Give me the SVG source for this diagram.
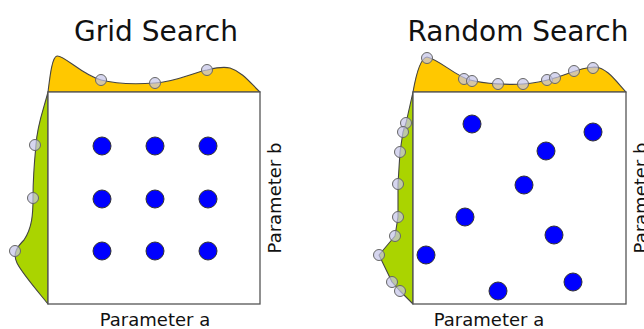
<svg xmlns="http://www.w3.org/2000/svg" width="644" height="329" viewBox="0 0 644 329">
  <style>
    .title { font-family: "DejaVu Sans", Verdana, sans-serif; font-size: 28px; fill: #111; text-anchor: middle; }
    .axis { font-family: "DejaVu Sans", Verdana, sans-serif; font-size: 18px; fill: #111; text-anchor: middle; }
    .frame { fill: #ffffff; stroke: #555; stroke-width: 1.3; }
    .top { fill: #ffc800; stroke: #444; stroke-width: 1.1; stroke-linejoin: round; }
    .side { fill: #aad400; stroke: #444; stroke-width: 1.1; stroke-linejoin: round; }
    .trial { fill: #0000ff; stroke: #333; stroke-width: 1; }
    .sample { fill: rgb(196,196,232); fill-opacity: 0.7; stroke: #666; stroke-width: 1; }
  </style>

  <!-- Grid search panel -->
  <g id="grid-search">
    <text class="title" x="156" y="41">Grid Search</text>
    <path class="top" d="M48,92 C50,76 52,57 57,56 C64,55 82,75 101,80 C120,85 140,84 155,83 C175,82 195,72 207,70 C215,68 222,66 230,68 C243,72 252,85 260,92 Z"/>
    <path class="side" d="M48,92 C44,108 37,125 36,145 C34,165 33,185 33,198 C33,215 32,228 24,240 C18,246 12,253 17,263 C22,273 35,288 48,304 Z"/>
    <rect class="frame" x="48" y="92" width="212" height="212"/>
    <g id="grid-samples-a">
      <circle class="sample" cx="101" cy="80" r="5.5"/>
      <circle class="sample" cx="155" cy="83" r="5.5"/>
      <circle class="sample" cx="207" cy="70" r="5.5"/>
    </g>
    <g id="grid-samples-b">
      <circle class="sample" cx="35" cy="145" r="5.5"/>
      <circle class="sample" cx="33" cy="198" r="5.5"/>
      <circle class="sample" cx="15" cy="251" r="5.5"/>
    </g>
    <g id="grid-trials">
      <circle class="trial" cx="102" cy="146" r="9"/>
      <circle class="trial" cx="155" cy="146" r="9"/>
      <circle class="trial" cx="208" cy="146" r="9"/>
      <circle class="trial" cx="102" cy="199" r="9"/>
      <circle class="trial" cx="155" cy="199" r="9"/>
      <circle class="trial" cx="208" cy="199" r="9"/>
      <circle class="trial" cx="102" cy="251" r="9"/>
      <circle class="trial" cx="155" cy="251" r="9"/>
      <circle class="trial" cx="208" cy="251" r="9"/>
    </g>
    <text class="axis" x="155" y="326">Parameter a</text>
    <text class="axis" transform="translate(281,198) rotate(-90)">Parameter b</text>
  </g>

  <!-- Random search panel -->
  <g id="random-search">
    <text class="title" x="518" y="41">Random Search</text>
    <path class="top" d="M413,92 C416,75 420,58 427,57 C440,60 455,76 470,80 C485,84 510,85 523,84 C540,83 548,80 558,77 C570,73 582,67 595,67 C607,68 615,80 626,92 Z"/>
    <path class="side" d="M413,92 L406,123 L403,132 L400,152 L398,184 L398,217 L395,236 L379,255 L392,282 L400,291 L413,304 Z"/>
    <rect class="frame" x="413" y="92" width="213" height="212"/>
    <g id="random-samples-a">
      <circle class="sample" cx="427" cy="58" r="5.5"/>
      <circle class="sample" cx="464" cy="79" r="5.5"/>
      <circle class="sample" cx="472" cy="81" r="5.5"/>
      <circle class="sample" cx="498" cy="84" r="5.5"/>
      <circle class="sample" cx="523" cy="84" r="5.5"/>
      <circle class="sample" cx="547" cy="80" r="5.5"/>
      <circle class="sample" cx="555" cy="78" r="5.5"/>
      <circle class="sample" cx="574" cy="71" r="5.5"/>
      <circle class="sample" cx="593" cy="68" r="5.5"/>
    </g>
    <g id="random-samples-b">
      <circle class="sample" cx="406" cy="123" r="5.5"/>
      <circle class="sample" cx="403" cy="132" r="5.5"/>
      <circle class="sample" cx="400" cy="152" r="5.5"/>
      <circle class="sample" cx="398" cy="184" r="5.5"/>
      <circle class="sample" cx="398" cy="217" r="5.5"/>
      <circle class="sample" cx="395" cy="236" r="5.5"/>
      <circle class="sample" cx="379" cy="255" r="5.5"/>
      <circle class="sample" cx="392" cy="282" r="5.5"/>
      <circle class="sample" cx="400" cy="291" r="5.5"/>
    </g>
    <g id="random-trials">
      <circle class="trial" cx="472" cy="124" r="9"/>
      <circle class="trial" cx="593" cy="132" r="9"/>
      <circle class="trial" cx="546" cy="151" r="9"/>
      <circle class="trial" cx="524" cy="185" r="9"/>
      <circle class="trial" cx="465" cy="217" r="9"/>
      <circle class="trial" cx="554" cy="235" r="9"/>
      <circle class="trial" cx="426" cy="255" r="9"/>
      <circle class="trial" cx="573" cy="282" r="9"/>
      <circle class="trial" cx="498" cy="291" r="9"/>
    </g>
    <text class="axis" x="489" y="326">Parameter a</text>
    <text class="axis" transform="translate(647,198) rotate(-90)">Parameter b</text>
  </g>
</svg>
